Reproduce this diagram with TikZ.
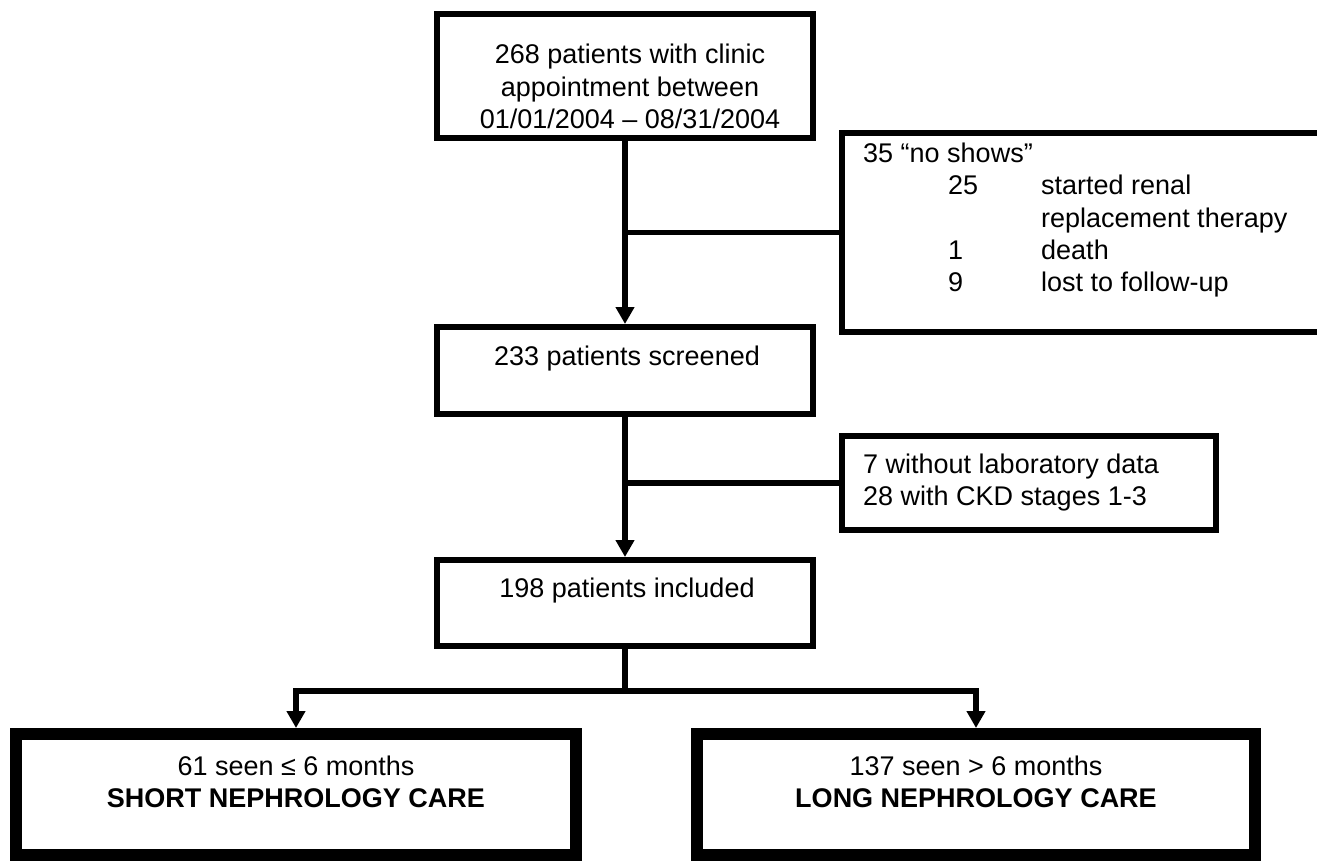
\documentclass[tikz,border=0pt]{standalone}
\usepackage{fontspec}
\setmainfont{Liberation Sans}
\usetikzlibrary{arrows.meta}
\begin{document}
\begin{tikzpicture}[x=1pt,y=-1pt,
  box/.style={draw,line width=6pt,inner sep=0pt,minimum width=#1},
  bigbox/.style={draw,line width=12pt,inner sep=0pt,minimum width=#1,minimum height=121pt},
  conn/.style={line width=5.5pt},
  arr/.style={line width=5.5pt,-{Triangle[length=17pt,width=18pt]}},
  tl/.style={font=\fontsize{27}{32}\selectfont,inner sep=0pt,anchor=base},
  tlw/.style={tl,anchor=base west}]
\useasboundingbox (0,0) rectangle (1317,861);
% boxes
\node[box=376pt,minimum height=124pt] (b1) at (625,76) {};
\node[tl] (t1a) at (630,64) {268 patients with clinic};
\node[tl] (t1b) at (630,97) {appointment between};
\node[tl] (t1c) at (630,129) {01/01/2004 -- 08/31/2004};

\node[box=485pt,minimum height=199pt] (ns) at (1084.5,232.5) {};
\node[tlw] (n0) at (863,163) {35 ``no shows''};
\node[tlw] (n1) at (948,195) {25};
\node[tlw] (n1t) at (1041,195) {started renal};
\node[tlw] (n2t) at (1041,227) {replacement therapy};
\node[tlw] (n3) at (948,259) {1};
\node[tlw] (n3t) at (1041,259) {death};
\node[tlw] (n4) at (948,291) {9};
\node[tlw] (n4t) at (1041,291) {lost to follow-up};

\node[box=376pt,minimum height=87pt] (b2) at (625,370.5) {};
\node[tl] (t2) at (627,365) {233 patients screened};

\node[box=374pt,minimum height=94pt] (b3) at (1029,483) {};
\node[tlw] (t3a) at (863,473) {7 without laboratory data};
\node[tlw] (t3b) at (863,505) {28 with CKD stages 1-3};

\node[box=376pt,minimum height=86pt] (b4) at (625,603) {};
\node[tl] (t4) at (627,597) {198 patients included};

\node[bigbox=560pt] (b5) at (296,794.5) {};
\node[tl] (t5a) at (296,775) {61 seen ≤ 6 months};
\node[tl] (t5b) at (296,807) {\bfseries SHORT NEPHROLOGY CARE};

\node[bigbox=558pt] (b6) at (976,794.5) {};
\node[tl] (t6a) at (976,775) {137 seen > 6 months};
\node[tl] (t6b) at (976,807) {\bfseries LONG NEPHROLOGY CARE};

% connectors
\draw[arr] (b1.south) -- (b2.north);
\draw[conn] (b1.south |- ns.west) -- (ns.west);
\draw[arr] (b2.south) -- (b4.north);
\draw[conn] (b2.south |- b3.west) -- (b3.west);
\coordinate (split) at (625,691);
\draw[conn] (b4.south) -- (split);
\draw[line width=5.5pt,{Triangle[length=17pt,width=18pt]}-{Triangle[length=17pt,width=18pt]}]
  (b5.north) -- (b5.north |- split) -- (b6.north |- split) -- (b6.north);
\end{tikzpicture}
\end{document}
